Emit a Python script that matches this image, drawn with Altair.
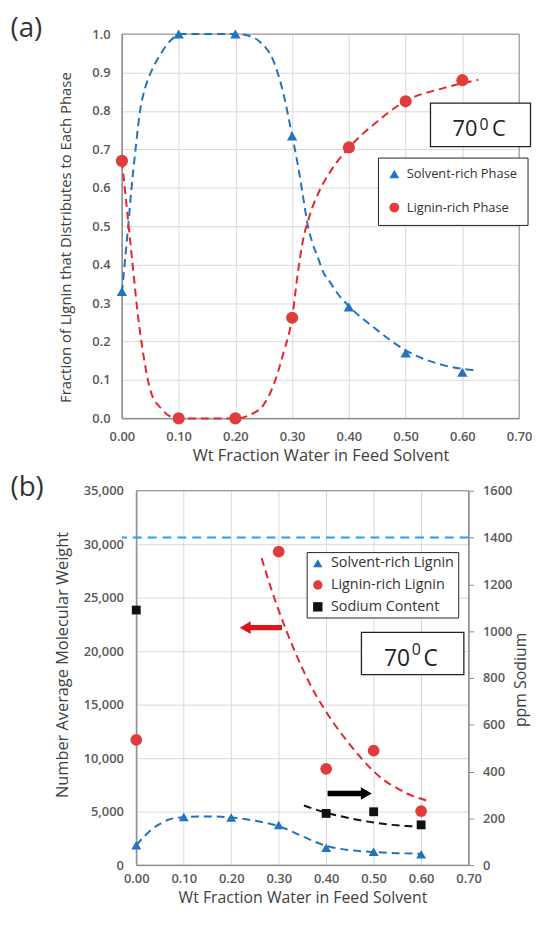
import altair as alt
import pandas as pd

FONT = "Open Sans"
BLUE_PT = "#2473c0"
BLUE_LN = "#2471c1"
RED_PT = "#e13c3d"
RED_LN = "#e6262c"
SKY = "#2b9fe6"
BLACK = "#111111"
AXIS_GRAY = "#8c8c8c"
GRID = "#d9d9d9"
LABEL = "#595959"
TITLE = "#404040"

# ---------------- panel (a) data ----------------
x_ticks = [0.0, 0.1, 0.2, 0.3, 0.4, 0.5, 0.6, 0.7]
a_y_ticks = [0.0, 0.1, 0.2, 0.3, 0.4, 0.5, 0.6, 0.7, 0.8, 0.9, 1.0]
a_series = ["Solvent-rich Phase", "Lignin-rich Phase"]
a_water = [0.0, 0.1, 0.2, 0.3, 0.4, 0.5, 0.6]
a_solvent_rich = [0.33, 1.0, 1.0, 0.735, 0.29, 0.17, 0.12]
a_lignin_rich = [0.67, 0.0, 0.0, 0.262, 0.705, 0.825, 0.88]
a_solvent_fit_x = [0.0, 0.011, 0.017, 0.024, 0.032, 0.041, 0.051, 0.069, 0.087, 0.105,
                   0.2, 0.225, 0.243, 0.267, 0.285, 0.30, 0.31, 0.32, 0.327, 0.335,
                   0.345, 0.355, 0.368, 0.38, 0.40, 0.448, 0.50, 0.568, 0.625]
a_solvent_fit_y = [0.327, 0.50, 0.60, 0.70, 0.80, 0.86, 0.90, 0.95, 0.985, 1.0,
                   1.0, 0.995, 0.98, 0.93, 0.843, 0.735, 0.66, 0.57, 0.506, 0.46,
                   0.42, 0.38, 0.352, 0.325, 0.292, 0.232, 0.177, 0.138, 0.125]
a_lignin_fit_x = [0.0, 0.009, 0.018, 0.027, 0.039, 0.051, 0.069, 0.087, 0.105, 0.2,
                  0.231, 0.249, 0.267, 0.285, 0.30, 0.31, 0.318, 0.33, 0.348, 0.368,
                  0.40, 0.448, 0.499, 0.568, 0.628]
a_lignin_fit_y = [0.671, 0.542, 0.413, 0.284, 0.155, 0.069, 0.026, 0.004, 0.0, 0.0,
                  0.013, 0.034, 0.086, 0.172, 0.262, 0.378, 0.455, 0.524, 0.592, 0.644,
                  0.704, 0.77, 0.825, 0.86, 0.881]

# ---------------- panel (b) data ----------------
b_left_ticks = [0, 5000, 10000, 15000, 20000, 25000, 30000, 35000]
b_right_ticks = [0, 200, 400, 600, 800, 1000, 1200, 1400, 1600]
b_series = ["Solvent-rich Lignin", "Lignin-rich Lignin", "Sodium Content"]
b_water = [0.0, 0.1, 0.2, 0.3, 0.4, 0.5, 0.6]
b_solvent_mn = [1850, 4500, 4450, 3750, 1630, 1250, 1020]
b_lignin_water = [0.0, 0.3, 0.4, 0.5, 0.6]
b_lignin_mn = [11700, 29300, 9000, 10700, 5050]
b_sodium_water = [0.0, 0.4, 0.5, 0.6]
b_sodium_ppm = [1090, 221, 228, 172]
b_solvent_fit_x = [0.0, 0.017, 0.034, 0.052, 0.069, 0.10, 0.15, 0.20, 0.25, 0.30,
                   0.35, 0.40, 0.45, 0.50, 0.55, 0.60]
b_solvent_fit_y = [1850, 2700, 3400, 3900, 4270, 4480, 4550, 4450, 4150, 3650,
                   2700, 1800, 1400, 1230, 1120, 1060]
b_lignin_fit_x = [0.264, 0.283, 0.305, 0.33, 0.354, 0.377, 0.399, 0.42, 0.444, 0.47,
                  0.497, 0.523, 0.549, 0.575, 0.60, 0.62]
b_lignin_fit_y = [28700, 26000, 23200, 20400, 18000, 16000, 14400, 13000, 11600, 10200,
                  8900, 7900, 7200, 6600, 6200, 5900]
b_sodium_fit_x = [0.353, 0.38, 0.40, 0.43, 0.46, 0.50, 0.54, 0.57, 0.60]
b_sodium_fit_y = [255, 236, 224, 209, 196, 182, 172, 167, 165]
b_sodium_limit = [1400]
# annotation arrows (left-axis units): red points left, black points right
red_arrow = {"tail": 0.307, "tip": 0.217, "mn": 22200}
black_arrow = {"tail": 0.403, "tip": 0.497, "mn": 6700}

# ---------------- geometry ----------------
WA, HA = 401, 388          # top plot
SH = 14.5                  # bottom plot starts this far right of top plot
WB, HB = 350, 378          # bottom group width (plot spans SH..WB)
HEAD = 0.0125              # half arrow-head length, x units
XSC = dict(domain=[0, 0.7], nice=False)


def x_axis(label_pad, title_pad, title_size):
    return alt.Axis(values=x_ticks, format=".2f", title="Wt Fraction Water in Feed Solvent",
                    ticks=False, labelPadding=label_pad, titlePadding=title_pad,
                    labelFontSize=13, titleFontSize=title_size, labelFlush=False)


def one(**kw):
    return pd.DataFrame({k: [v] for k, v in kw.items()})


def frame(x1, x2, h):
    return alt.Chart(one(a=0)).mark_rect(fillOpacity=0, stroke=AXIS_GRAY, strokeWidth=1).encode(
        x=alt.value(x1), x2=alt.value(x2), y=alt.value(0), y2=alt.value(h))


def txt(t, x, y, size, align="left", color="#222222"):
    return alt.Chart(one(t=t)).mark_text(font=FONT, fontSize=size, align=align,
                                         baseline="alphabetic", color=color).encode(
        text="t:N", x=alt.value(x), y=alt.value(y))


def box(x1, x2, y1, y2):
    return alt.Chart(one(a=0)).mark_rect(fill="white", stroke="#222222", strokeWidth=1.3).encode(
        x=alt.value(x1), x2=alt.value(x2), y=alt.value(y1), y2=alt.value(y2))


# ================= panel (a) =================
xa = alt.X("x:Q", scale=alt.Scale(**XSC), axis=x_axis(12, 5, 16.5))
ya = alt.Y("y:Q", scale=alt.Scale(domain=[0, 1], nice=False),
           axis=alt.Axis(values=a_y_ticks, format=".1f", ticks=False, labelPadding=12,
                         title="Fraction of Lignin that Distributes to Each Phase",
                         titleFontSize=15, titlePadding=18, titleY=205, labelFontSize=13))
leg_a = alt.Legend(title=None, orient="none", legendX=258.5, legendY=124.7,
                   strokeColor="#222222", fillColor="white", padding=10, rowPadding=20,
                   labelFont=FONT, labelFontSize=13, labelColor="#333333",
                   symbolSize=100, labelOffset=6, symbolStrokeWidth=0)
col_a = alt.Color("series:N", scale=alt.Scale(domain=a_series, range=[BLUE_PT, RED_PT]), legend=leg_a)
shp_a = alt.Shape("series:N", scale=alt.Scale(domain=a_series, range=["triangle-up", "circle"]), legend=leg_a)

df_a_s = pd.DataFrame({"x": a_water, "y": a_solvent_rich, "series": a_series[0]})
df_a_l = pd.DataFrame({"x": a_water, "y": a_lignin_rich, "series": a_series[1]})

fit_a_s = alt.Chart(pd.DataFrame({"x": a_solvent_fit_x, "y": a_solvent_fit_y})).mark_line(
    color=BLUE_LN, strokeDash=[8, 5], strokeWidth=2, interpolate="monotone").encode(x=xa, y=ya)
fit_a_l = alt.Chart(pd.DataFrame({"x": a_lignin_fit_x, "y": a_lignin_fit_y})).mark_line(
    color=RED_LN, strokeDash=[8, 5], strokeWidth=2, interpolate="monotone").encode(x=xa, y=ya)
pts_a_s = alt.Chart(df_a_s).mark_point(filled=True, opacity=1, size=110, strokeWidth=0).encode(
    x=xa, y=ya, color=col_a, shape=shp_a)
pts_a_l = alt.Chart(df_a_l).mark_point(filled=True, opacity=1, size=150, strokeWidth=0).encode(
    x=xa, y=ya, color=col_a, shape=shp_a)

top = alt.layer(
    frame(0, WA, HA), fit_a_s, fit_a_l, pts_a_s, pts_a_l,
    box(311.5, 412.5, 69.7, 113.7),
    txt("70", 359, 103.4, 22, "right"), txt("0", 361, 96.5, 16), txt("C", 373.5, 103.4, 22),
    txt("(a)", -112.5, 3, 28, color="#333333"),
).properties(width=WA, height=HA)

# ================= panel (b) =================
xb = alt.X("x:Q", scale=alt.Scale(range=[SH, WB], **XSC), axis=x_axis(8, 4, 16))
left_axis = alt.Axis(values=b_left_ticks, format=",.0f", ticks=False, labelPadding=13,
                     title="Number Average Molecular Weight", titleFontSize=16.5,
                     titlePadding=13, titleY=175.5, labelFontSize=13, orient="left", offset=-SH)
right_axis = alt.Axis(values=b_right_ticks, format="d", ticks=True, tickSize=5, labelPadding=9,
                      title=None, labelFontSize=13, orient="right", grid=False)
yl = alt.Y("mn:Q", scale=alt.Scale(domain=[0, 35000], nice=False), axis=left_axis)
yr = alt.Y("ppm:Q", scale=alt.Scale(domain=[0, 1600], nice=False), axis=right_axis)

leg_b = alt.Legend(title=None, orient="none", legendX=172 + SH, legendY=62,
                   strokeColor="#222222", fillColor="white", padding=4, rowPadding=7,
                   labelFont=FONT, labelFontSize=14.5, labelColor="#333333",
                   symbolSize=90, labelOffset=6, symbolStrokeWidth=0)
col_b = alt.Color("series:N", scale=alt.Scale(domain=b_series, range=[BLUE_PT, RED_PT, BLACK]), legend=leg_b)
shp_b = alt.Shape("series:N", scale=alt.Scale(domain=b_series, range=["triangle-up", "circle", "square"]), legend=leg_b)

df_b_s = pd.DataFrame({"x": b_water, "mn": b_solvent_mn, "series": b_series[0]})
df_b_l = pd.DataFrame({"x": b_lignin_water, "mn": b_lignin_mn, "series": b_series[1]})
df_b_na = pd.DataFrame({"x": b_sodium_water, "ppm": b_sodium_ppm, "series": b_series[2]})

fit_b_s = alt.Chart(pd.DataFrame({"x": b_solvent_fit_x, "mn": b_solvent_fit_y})).mark_line(
    color=BLUE_LN, strokeDash=[8, 5], strokeWidth=2, interpolate="monotone").encode(x=xb, y=yl)
fit_b_l = alt.Chart(pd.DataFrame({"x": b_lignin_fit_x, "mn": b_lignin_fit_y})).mark_line(
    color=RED_LN, strokeDash=[8, 5], strokeWidth=2, interpolate="monotone").encode(x=xb, y=yl)
pts_b_s = alt.Chart(df_b_s).mark_point(filled=True, opacity=1, size=100, strokeWidth=0).encode(
    x=xb, y=yl, color=col_b, shape=shp_b)
pts_b_l = alt.Chart(df_b_l).mark_point(filled=True, opacity=1, size=140, strokeWidth=0).encode(
    x=xb, y=yl, color=col_b, shape=shp_b)


def arrow(a, color, direction):
    sign = 1 if a["tip"] < a["tail"] else -1
    shaft_df = pd.DataFrame({"x": [a["tail"]], "x2": [a["tip"] + sign * HEAD], "mn": [a["mn"]]})
    head_df = pd.DataFrame({"x": [a["tip"] + sign * HEAD], "mn": [a["mn"]]})
    shaft = alt.Chart(shaft_df).mark_rule(color=color, strokeWidth=5.5).encode(x=xb, x2="x2:Q", y=yl)
    head = alt.Chart(head_df).mark_point(shape=direction, filled=True, opacity=1, size=160,
                                         strokeWidth=0, color=color).encode(x=xb, y=yl)
    return [shaft, head]


left_layer = alt.layer(fit_b_s, fit_b_l, pts_b_s, pts_b_l,
                       *arrow(red_arrow, "#e0141b", "triangle-left"),
                       *arrow(black_arrow, "#000000", "triangle-right"))

limit = alt.Chart(pd.DataFrame({"ppm": b_sodium_limit})).mark_rule(
    color=SKY, strokeDash=[9, 6], strokeWidth=2).encode(y=yr)
fit_b_na = alt.Chart(pd.DataFrame({"x": b_sodium_fit_x, "ppm": b_sodium_fit_y})).mark_line(
    color=BLACK, strokeDash=[8, 5], strokeWidth=2, interpolate="monotone").encode(x=xb, y=yr)
pts_b_na = alt.Chart(df_b_na).mark_point(filled=True, opacity=1, size=80, strokeWidth=0).encode(
    x=xb, y=yr, color=col_b, shape=shp_b)
right_layer = alt.layer(limit, fit_b_na, pts_b_na)

right_title = alt.Chart(one(t="ppm Sodium")).mark_text(
    font=FONT, fontSize=16, angle=270, align="center", baseline="middle", color=TITLE
).encode(text="t:N", x=alt.value(403), y=alt.value(191))

deco_b = alt.layer(
    frame(SH, WB, HB),
    box(227.3 + SH, 330.7 + SH, 143, 185.7),
    txt("70", 276.3 + SH, 177.3, 23, "right"), txt("0", 278 + SH, 166.3, 16), txt("C", 290 + SH, 177.3, 23),
    txt("(b)", -112.5, 5, 28, color="#333333"),
    right_title,
)

bottom = alt.layer(deco_b, left_layer, right_layer).resolve_scale(y="independent").properties(
    width=WB, height=HB)

chart = alt.vconcat(top, bottom, spacing=9).resolve_scale(
    x="independent", y="independent", color="independent", shape="independent"
).properties(
    padding={"left": 2, "top": 3, "right": 0, "bottom": 0}
).configure_view(strokeWidth=0).configure_axis(
    labelFont=FONT, titleFont=FONT, labelColor=LABEL, titleColor=TITLE,
    labelFontWeight=600, titleFontWeight="normal", gridColor=GRID, gridWidth=1,
    domainColor=AXIS_GRAY, tickColor=AXIS_GRAY
)

chart.save("out.html", embed_options={"renderer": "svg", "actions": False})
